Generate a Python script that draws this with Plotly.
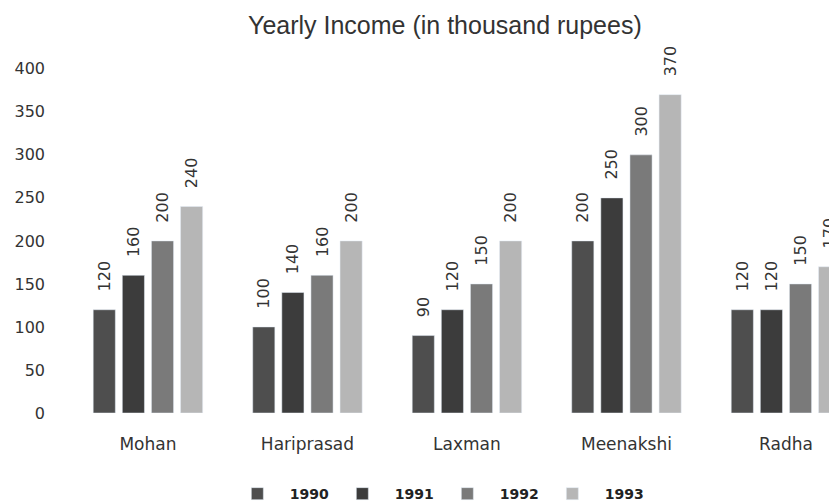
import plotly.graph_objects as go

people = ["Mohan", "Hariprasad", "Laxman", "Meenakshi", "Radha"]
years = ["1990", "1991", "1992", "1993"]
income_1990 = [120, 100, 90, 200, 120]
income_1991 = [160, 140, 120, 250, 120]
income_1992 = [200, 160, 150, 300, 150]
income_1993 = [240, 200, 200, 370, 170]
series = [income_1990, income_1991, income_1992, income_1993]
colors = ["#4e4e4e", "#3c3c3c", "#7a7a7a", "#b6b6b6"]

fig = go.Figure()
for yr, vals, col in zip(years, series, colors):
    fig.add_trace(go.Bar(
        name="<b>" + yr + "</b>", x=people, y=vals, marker_color=col,
        text=["\u00a0\u00a0\u00a0" + str(v) for v in vals], textposition="outside", textangle=-90,
        textfont=dict(size=16, color="#333", family="DejaVu Sans"),
        constraintext="none", cliponaxis=False,
    ))

fig.update_layout(
    width=829, height=494,
    barmode="group", bargap=0.27, bargroupgap=0.24,
    plot_bgcolor="white", paper_bgcolor="white",
    margin=dict(l=42, r=0, t=35, b=89, autoexpand=False),
    title=dict(text="Yearly Income (in thousand rupees)", x=0.527, xanchor="center",
               xref="container", y=0.9656, yanchor="middle",
               font=dict(family="Liberation Sans", size=25, color="#333")),
    font=dict(family="DejaVu Sans", size=16, color="#333"),
    xaxis=dict(range=[-0.614, 4.32], showline=False, ticks="", showgrid=False,
               ticklabelstandoff=19, tickfont=dict(size=17)),
    yaxis=dict(range=[0, 430], tickvals=[0, 50, 100, 150, 200, 250, 300, 350, 400],
               showgrid=False, showline=False, zeroline=False, ticks="",
               ticklabelstandoff=4, tickfont=dict(size=16)),
    legend=dict(orientation="h", x=0.489, xanchor="center", y=-0.219, yanchor="middle",
                font=dict(size=14, color="#222", family="DejaVu Sans"),
                itemwidth=55, entrywidth=35, traceorder="normal"),
)
fig.write_html("out.html")
